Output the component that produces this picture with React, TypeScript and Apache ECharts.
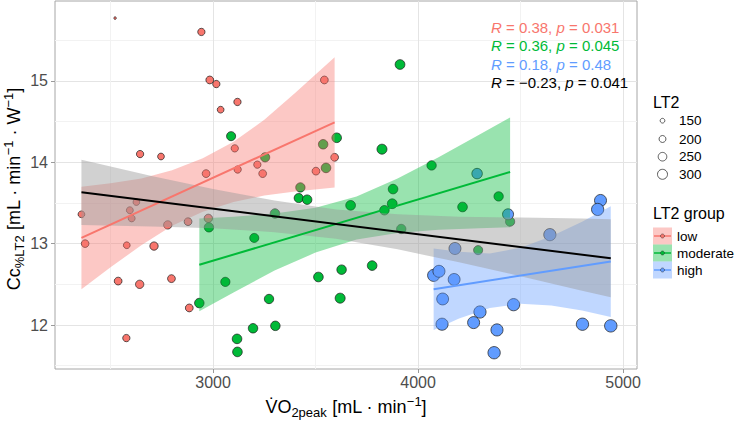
import React, { useEffect, useRef } from "react";
import * as echarts from "echarts";

const FONT = '"Liberation Sans", Arial, Helvetica, sans-serif';

// ---- data ----
const lowX = [2522, 2943, 2984, 3016, 3037, 3119, 3106, 3120, 2966, 2644, 2746, 2358, 2376, 2594, 2626, 2603, 2579, 2779, 2878, 2977, 2712, 2537, 2642, 2797, 2884, 2577, 3543, 3593, 3502, 3216, 3242];
const lowY = [15.77, 15.6, 15.01, 14.96, 14.645, 14.74, 14.17, 13.91, 13.86, 14.1, 14.07, 13.36, 13.0, 13.41, 13.51, 13.31, 12.98, 13.23, 13.27, 13.31, 12.97, 12.54, 12.5, 12.57, 12.21, 11.84, 15.01, 14.06, 13.89, 13.97, 13.86];
const lowLT2 = [120, 210, 225, 210, 195, 210, 210, 210, 225, 210, 195, 195, 220, 200, 195, 200, 195, 240, 225, 240, 240, 225, 240, 225, 225, 210, 225, 225, 225, 210, 225];

const modX = [2980, 3060, 3088, 2933, 3117, 3119, 3195, 3912, 3603, 3537, 3551, 3254, 3824, 4066, 3426, 3418, 3459, 3878, 3874, 3836, 3671, 3302, 3918, 3201, 3776, 3627, 3514, 3273, 3620, 3304, 4393, 4217, 4449, 4293];
const modY = [13.2, 12.53, 14.32, 12.27, 11.83, 11.67, 11.96, 15.2, 14.3, 14.22, 13.93, 14.06, 14.16, 13.96, 13.69, 13.56, 13.54, 13.67, 13.49, 13.41, 13.47, 13.37, 13.18, 13.07, 12.73, 12.68, 12.59, 12.32, 12.33, 11.99, 13.58, 13.45, 13.27, 12.92];
const modLT2 = [275, 270, 265, 280, 285, 285, 280, 290, 285, 280, 285, 270, 300, 275, 275, 270, 280, 285, 290, 280, 290, 280, 275, 265, 285, 280, 285, 275, 300, 280, 275, 285, 270, 265];

const highX = [4076, 4102, 4120, 4117, 4288, 4439, 4643, 4890, 4876, 4180, 4176, 4302, 4466, 4271, 4385, 4371, 4802, 4940];
const highY = [12.61, 12.66, 12.32, 12.01, 13.86, 13.36, 13.11, 13.53, 13.42, 12.94, 12.56, 12.16, 12.25, 12.03, 11.94, 11.66, 12.01, 11.99];
const highLT2 = [390, 385, 380, 390, 320, 340, 395, 385, 395, 385, 380, 395, 395, 385, 390, 400, 400, 405];

// fitted lines (end points)
const lowFitX = [2358, 3593];
const lowFitY = [13.07, 14.49];
const modFitX = [2933, 4449];
const modFitY = [12.74, 13.88];
const highFitX = [4076, 4940];
const highFitY = [12.44, 12.78];
const allFitX = [2358, 4940];
const allFitY = [13.63, 12.82];

// confidence bands
const lowBandX = [2358, 2500, 2650, 2800, 2950, 3100, 3250, 3400, 3593];
const lowBandLo = [12.44, 12.71, 12.98, 13.22, 13.39, 13.51, 13.59, 13.64, 13.69];
const lowBandHi = [13.7, 13.74, 13.8, 13.9, 14.05, 14.25, 14.52, 14.85, 15.29];

const modBandX = [2933, 3100, 3300, 3500, 3700, 3900, 4100, 4300, 4449];
const modBandLo = [12.17, 12.4, 12.67, 12.89, 13.05, 13.13, 13.17, 13.19, 13.2];
const modBandHi = [13.31, 13.33, 13.37, 13.44, 13.58, 13.8, 14.06, 14.34, 14.55];

const highBandX = [4076, 4200, 4350, 4500, 4650, 4800, 4940];
const highBandLo = [11.94, 12.08, 12.21, 12.26, 12.24, 12.18, 12.1];
const highBandHi = [12.94, 12.9, 12.88, 12.95, 13.09, 13.27, 13.46];

const allBandX = [2358, 2700, 3000, 3300, 3600, 3900, 4200, 4500, 4800, 4940];
const allBandLo = [13.23, 13.21, 13.19, 13.14, 13.06, 12.93, 12.77, 12.6, 12.42, 12.34];
const allBandHi = [14.03, 13.83, 13.67, 13.53, 13.42, 13.36, 13.33, 13.32, 13.31, 13.3];

const xTicks = [3000, 4000, 5000];
const xMinor = [2500, 3500, 4500];
const yTicks = [12, 13, 14, 15];
const yMinor = [11.5, 12.5, 13.5, 14.5, 15.5];

const corrR = ["0.38", "0.36", "0.18", "\u22120.23"];
const corrP = ["0.031", "0.045", "0.48", "0.041"];
const sizeBreaks = [150, 200, 250, 300];
const groupNames = ["low", "moderate", "high"];

const COL = ["#F8766D", "#00BA38", "#619CFF", "#000000"];
const FILL = ["rgba(248,118,109,0.4)", "rgba(0,186,56,0.4)", "rgba(97,156,255,0.4)", "rgba(153,153,153,0.45)"];

const sizeOf = (v: number) => Math.sqrt(Math.max(0.52 * v - 56, 1));

const pts = (xs: number[], ys: number[], ss: number[]) => xs.map((x, i) => [x, ys[i], ss[i]]);
const pairs = (xs: number[], ys: number[]) => xs.map((x, i) => [x, ys[i]]);

const scatter = (name: string, data: any[], color: string) => ({
  type: "scatter",
  name,
  data,
  z: 2,
  symbolSize: (v: number[]) => sizeOf(v[2]),
  itemStyle: { color, borderColor: "#1a1a1a", borderWidth: 0.7, opacity: 1 },
  emphasis: { disabled: true },
  silent: true,
});

// ribbon drawn as one polygon through the axes' own scales
const band = (xs: number[], lo: number[], hi: number[], fill: string) => ({
  type: "custom",
  data: [[xs[0], lo[0]]],
  silent: true,
  z: 3,
  clip: true,
  renderItem: (_params: any, api: any) => {
    const upper = xs.map((x, i) => api.coord([x, hi[i]]));
    const lower = xs.map((x, i) => api.coord([x, lo[i]])).reverse();
    return {
      type: "polygon",
      shape: { points: [...upper, ...lower] },
      style: { fill, stroke: "none" },
    };
  },
});

const fit = (xs: number[], ys: number[], color: string) => ({
  type: "line", data: pairs(xs, ys), symbol: "none",
  lineStyle: { color, width: 2 }, silent: true, z: 3, emphasis: { disabled: true },
});

const nameRich = {
  n: { fontSize: 18, lineHeight: 24, fontFamily: FONT, color: "#000" },
  sub: { fontSize: 13, lineHeight: 13, verticalAlign: "bottom", fontFamily: FONT, color: "#000" },
  sup: { fontSize: 13, lineHeight: 15, verticalAlign: "top", fontFamily: FONT, color: "#000" },
};

const graphicRich = {
  n: { fontSize: 18, lineHeight: 24, fontFamily: FONT, fill: "#000" },
  sub: { fontSize: 13, lineHeight: 13, verticalAlign: "bottom", fontFamily: FONT, fill: "#000" },
  sup: { fontSize: 13, lineHeight: 15, verticalAlign: "top", fontFamily: FONT, fill: "#000" },
};

export default function App() {
  const ref = useRef<HTMLDivElement>(null);
  useEffect(() => {
    if (!ref.current) return;
    const chart = echarts.init(ref.current, undefined, { renderer: "svg" });

    const annY = [27, 45.5, 64, 82.5];
    const annotations = corrR.map((r, i) => ({
      type: "text",
      x: 491,
      y: annY[i],
      z: 100,
      style: {
        text: `{i|R} = ${r}, {i|p} = ${corrP[i]}`,
        fill: COL[i],
        fontSize: 15,
        fontFamily: FONT,
        verticalAlign: "middle",
        rich: { i: { fontStyle: "italic", fontSize: 15, fontFamily: FONT, fill: COL[i] } },
      },
    }));

    const yTitle = {
      type: "text",
      x: 14,
      y: 189,
      rotation: Math.PI / 2,
      z: 100,
      style: {
        text: "{n|Cc}{sub|%LT2}{n| [mL \u00b7 min}{sup|\u22121}{n| \u00b7 W}{sup|\u22121}{n|]}",
        align: "center",
        verticalAlign: "middle",
        fontSize: 18,
        fontFamily: FONT,
        fill: "#000",
        rich: graphicRich,
      },
    };

    const sizeRowY = [120.7, 139, 156.7, 174.3];
    const sizeLegend: any[] = [
      { type: "text", x: 653, y: 102, z: 100, style: { text: "LT2", fontSize: 16, fontFamily: FONT, fill: "#000", verticalAlign: "middle" } },
    ];
    sizeBreaks.forEach((b, i) => {
      sizeLegend.push({
        type: "circle", z: 100,
        shape: { cx: 662.5, cy: sizeRowY[i], r: sizeOf(b) / 2 },
        style: { fill: "#fff", stroke: "#333", lineWidth: 0.8 },
      });
      sizeLegend.push({
        type: "text", x: 679, y: sizeRowY[i], z: 100,
        style: { text: String(b), fontSize: 13.5, fontFamily: FONT, fill: "#000", verticalAlign: "middle" },
      });
    });

    const groupRowY = [236, 253, 270];
    const groupLegend: any[] = [
      { type: "text", x: 653, y: 213, z: 100, style: { text: "LT2 group", fontSize: 16, fontFamily: FONT, fill: "#000", verticalAlign: "middle" } },
    ];
    groupNames.forEach((g, i) => {
      const cy = groupRowY[i];
      groupLegend.push({ type: "rect", z: 100, shape: { x: 653, y: cy - 8.5, width: 19, height: 17 }, style: { fill: FILL[i] } });
      groupLegend.push({ type: "line", z: 101, shape: { x1: 654, y1: cy, x2: 671, y2: cy }, style: { stroke: COL[i], lineWidth: 1.5 } });
      groupLegend.push({ type: "circle", z: 102, shape: { cx: 662.5, cy, r: 2 }, style: { fill: COL[i], stroke: "#333", lineWidth: 0.5 } });
      groupLegend.push({
        type: "text", x: 677, y: cy, z: 100,
        style: { text: g, fontSize: 13.5, fontFamily: FONT, fill: "#000", verticalAlign: "middle" },
      });
    });

    const tickLabel = { fontSize: 16, color: "#4d4d4d", fontFamily: FONT, formatter: (v: number) => String(v) };

    chart.setOption({
      animation: false,
      backgroundColor: "#ffffff",
      textStyle: { fontFamily: FONT },
      grid: {
        left: 55, right: 101, top: 1, bottom: 52,
        show: true, borderColor: "#a6a6a6", borderWidth: 1,
        containLabel: false, outerBoundsMode: "none",
      },
      xAxis: [
        {
          type: "value", min: 2229, max: 5068, position: "bottom",
          axisLine: { show: false },
          axisTick: { show: true, length: 4, lineStyle: { color: "#9a9a9a" }, customValues: xTicks },
          axisLabel: { ...tickLabel, margin: 5, customValues: xTicks },
          splitLine: { show: true, lineStyle: { color: "#e4e4e4", width: 1 } },
          name: "{n|V\u0307O}{sub|2peak}{n| [mL \u00b7 min}{sup|\u22121}{n|]}",
          nameLocation: "middle",
          nameGap: 24,
          nameTextStyle: { fontSize: 18, lineHeight: 24, fontFamily: FONT, color: "#000", rich: nameRich },
        },
        {
          type: "value", min: 2229, max: 5068, position: "top",
          axisLine: { show: false },
          axisTick: { show: false, customValues: xMinor },
          axisLabel: { show: false, customValues: xMinor },
          splitLine: { show: true, lineStyle: { color: "#f2f2f2", width: 1 } },
        },
      ],
      yAxis: [
        {
          type: "value", min: 11.46, max: 15.98, position: "left",
          axisLine: { show: false },
          axisTick: { show: true, length: 4, lineStyle: { color: "#9a9a9a" }, customValues: yTicks },
          axisLabel: { ...tickLabel, margin: 7, customValues: yTicks },
          splitLine: { show: true, lineStyle: { color: "#e4e4e4", width: 1 } },
        },
        {
          type: "value", min: 11.46, max: 15.98, position: "right",
          axisLine: { show: false },
          axisTick: { show: false, customValues: yMinor },
          axisLabel: { show: false, customValues: yMinor },
          splitLine: { show: true, lineStyle: { color: "#f2f2f2", width: 1 } },
        },
      ],
      series: [
        scatter("low", pts(lowX, lowY, lowLT2), COL[0]),
        scatter("moderate", pts(modX, modY, modLT2), COL[1]),
        scatter("high", pts(highX, highY, highLT2), COL[2]),
        band(lowBandX, lowBandLo, lowBandHi, FILL[0]),
        fit(lowFitX, lowFitY, COL[0]),
        band(modBandX, modBandLo, modBandHi, FILL[1]),
        fit(modFitX, modFitY, COL[1]),
        band(highBandX, highBandLo, highBandHi, FILL[2]),
        fit(highFitX, highFitY, COL[2]),
        band(allBandX, allBandLo, allBandHi, FILL[3]),
        fit(allFitX, allFitY, COL[3]),
      ],
      graphic: [yTitle, ...annotations, ...sizeLegend, ...groupLegend],
    });

    return () => chart.dispose();
  }, []);

  return (
    <div
      ref={ref}
      style={{ position: "absolute", left: 0, top: 0, width: 738, height: 421, background: "#fff" }}
    />
  );
}
